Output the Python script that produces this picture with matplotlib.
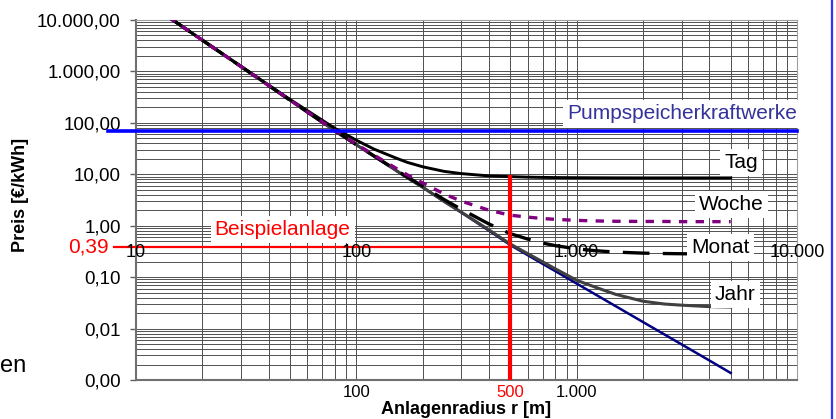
import matplotlib
matplotlib.use("Agg")
import matplotlib.pyplot as plt
from matplotlib.ticker import FixedLocator, NullFormatter, LogLocator
import numpy as np

plt.rcParams['font.family'] = ['Liberation Sans', 'DejaVu Sans']

# Anlagenradius r [m]
radius = [14, 20, 30, 50, 80, 100, 120, 150, 170, 200, 250, 300, 400, 500, 600, 700,
          800, 1000, 1200, 1500, 2000, 2500, 3000, 4000, 5000]

# Preis [EUR/kWh] per storage period
basis = [11500, 4050, 1240, 276, 70, 37.4, 22.6, 12.2, 8.6, 5.6, 2.95, 1.8, 0.8, 0.42,
         0.267, 0.182, 0.131, 0.075, 0.0477, 0.0274, 0.0134, 0.0077, 0.0049, 0.0024, 0.00137]
tag = [11500, 4060, 1250, 285, 78, 46, 31, 21, 17.1, 14, 11.4, 10.3, 9.3, 9.0,
       8.8, 8.7, 8.63, 8.58, 8.55, 8.52, 8.5, 8.5, 8.5, 8.5, 8.5]
woche = [11500, 4050, 1240, 277, 71, 38.6, 23.8, 13.4, 9.8, 6.8, 4.15, 3.0, 2.0, 1.6,
         1.47, 1.38, 1.33, 1.27, 1.24, 1.22, 1.21, 1.21, 1.2, 1.2, 1.2]
monat = [11500, 4050, 1240, 276, 70, 37.7, 22.9, 12.5, 8.9, 5.9, 3.23, 2.08, 1.08, 0.7,
         0.55, 0.46, 0.41, 0.355, 0.328, 0.307, 0.293, 0.288, 0.285, 0.282, 0.28]
jahr = [11500, 4050, 1240, 276, 70, 37.4, 22.6, 12.2, 8.6, 5.6, 2.98, 1.83, 0.83, 0.44,
        0.286, 0.199, 0.145, 0.087, 0.065, 0.0464, 0.034, 0.030, 0.0285, 0.0267, 0.0262]

pumpspeicher = 70
beispiel_r = 500
beispiel_preis = 0.39
beispiel_tag = 9.0

ytick_vals = [0.001, 0.01, 0.1, 1, 10, 100, 1000, 10000]
ytick_labels = ['0,00', '0,01', '0,10', '1,00', '10,00', '100,00', '1.000,00', '10.000,00']
xinline_vals = [10, 100, 1000, 10000]
xinline_labels = ['10', '100', '1.000', '10.000']
xbottom_vals = [100, 500, 1000]
xbottom_labels = ['100', '500', '1.000']
xbottom_colors = ['black', 'red', 'black']

fig = plt.figure(figsize=(8.36, 4.19), dpi=100)
ax = fig.add_axes([136/836, 1-380/419, (797-136)/836, 360/419])
ax.set_xscale('log')
ax.set_yscale('log')
ax.set_xlim(10, 10000)
ax.set_ylim(0.001, 10000)

# grid
ax.xaxis.set_major_locator(LogLocator(base=10))
ax.xaxis.set_minor_locator(LogLocator(base=10, subs=np.arange(2, 10)))
ax.xaxis.set_major_formatter(NullFormatter())
ax.xaxis.set_minor_formatter(NullFormatter())
ax.yaxis.set_major_locator(FixedLocator(ytick_vals))
ax.yaxis.set_minor_locator(LogLocator(base=10, subs=np.arange(2, 10), numticks=20))
ax.set_yticklabels(ytick_labels)
ax.yaxis.set_minor_formatter(NullFormatter())
ax.tick_params(axis='x', which='both', length=0)
ax.tick_params(axis='y', which='major', length=4, width=1, color='#606060', pad=7,
               labelsize=13.5)
ax.tick_params(axis='y', which='minor', length=0)
ax.grid(True, which='both', color='#505050', lw=0.7)
ax.set_axisbelow(True)
for side in ['top', 'right']:
    ax.spines[side].set_color('#a0a0a0')
for side in ['left', 'bottom']:
    ax.spines[side].set_color('#707070')
    ax.spines[side].set_linewidth(1.5)

# curves
ax.plot(radius, basis, color='#000080', lw=1.8, zorder=3)
ax.plot(radius, jahr, color='#404040', lw=2.2, zorder=4)
ax.plot(radius, monat, color='black', lw=2.4, dashes=(8, 4), zorder=5)
ax.plot(radius, woche, color='#800080', lw=2.4, dashes=(2.5, 2.5), zorder=6)
ax.plot(radius, tag, color='black', lw=2.1, zorder=5)

# Pumpspeicher line
ax.plot([7.47, 10000], [pumpspeicher, pumpspeicher], color='#0000ff', lw=2.6,
        clip_on=False, zorder=7)

# Beispielanlage
ax.plot([7.95, beispiel_r], [beispiel_preis, beispiel_preis], color='red', lw=1.6,
        clip_on=False, zorder=7)
ax.plot([beispiel_r, beispiel_r], [0.001, beispiel_tag], color='red', lw=3, zorder=7)
ax.text(7.55, beispiel_preis, '0,39', color='red', fontsize=15, ha='right', va='center',
        clip_on=False)

box = dict(facecolor='white', edgecolor='none', pad=3)
ax.text(10000, 117, 'Pumpspeicherkraftwerke', color='#333399', fontsize=15,
        ha='right', va='baseline', bbox=box, zorder=6)
ax.text(46.3, 0.66, 'Beispielanlage', color='red', fontsize=15, ha='center',
        va='baseline', bbox=box, zorder=6)
ax.text(5585, 13.1, 'Tag', fontsize=15, ha='center', va='baseline', bbox=box, zorder=8)
ax.text(5055, 2.02, 'Woche', fontsize=15, ha='center', va='baseline', bbox=box, zorder=8)
ax.text(4487, 0.295, 'Monat', fontsize=15, ha='center', va='baseline', bbox=box, zorder=8)
ax.text(5236, 0.036, 'Jahr', fontsize=15, ha='center', va='baseline', bbox=box, zorder=8)

# axis labels crossing the plot at y ~ 0.3
for xv, lab in zip(xinline_vals, xinline_labels):
    ax.text(xv, 0.295, lab, fontsize=13, ha='center', va='center', zorder=9,
            clip_on=False)

# bottom tick labels
trans = ax.get_xaxis_transform()
for xv, lab, col in zip(xbottom_vals, xbottom_labels, xbottom_colors):
    ax.text(xv, -0.035, lab, transform=trans, fontsize=12, color=col,
            ha='center', va='center')

fig.text(466/836, 1-401/419, 'Anlagenradius r [m]', fontsize=13, fontweight='bold',
         ha='center', va='top')
fig.text(21/836, 1-195/419, 'Preis [€/kWh]', fontsize=13, fontweight='bold',
         rotation=90, ha='center', va='center')
fig.text(0, 1-372/419, 'en', fontsize=17, ha='left', va='baseline')

# slide border on the right
fig.add_artist(plt.Line2D([832/836, 832/836], [0, 1], color='#3333ff', lw=1.6))

fig.savefig('out.png', dpi=100)
